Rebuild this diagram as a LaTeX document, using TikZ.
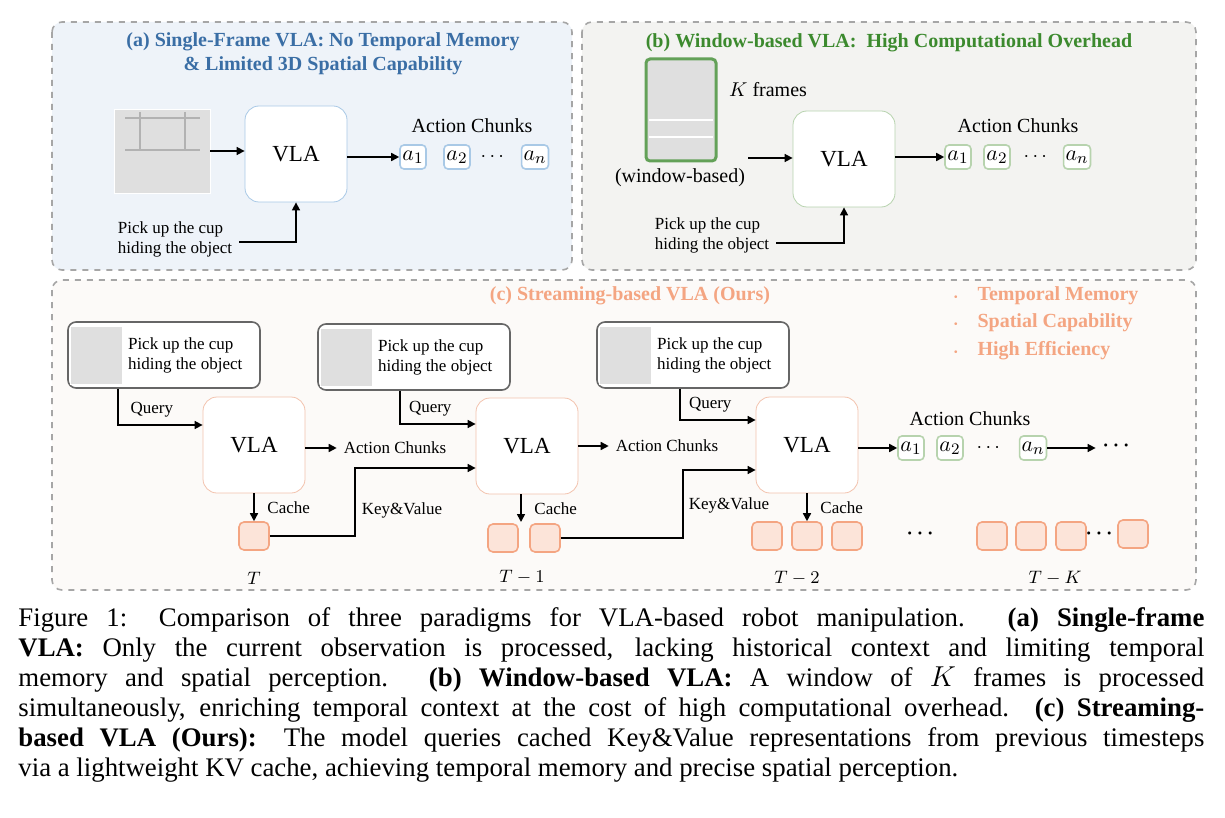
\documentclass[tikz,border=0pt]{standalone}
\usepackage{fontspec}
\setmainfont{Liberation Serif}
\usepackage{amsmath}
\usetikzlibrary{arrows.meta}
\definecolor{ablue}{HTML}{3A6EA5}
\definecolor{bgreen}{HTML}{3C8A2E}
\definecolor{corange}{HTML}{F4A582}
\definecolor{vlablue}{HTML}{A9C9E6}
\definecolor{vlagreen}{HTML}{B7D3AE}
\definecolor{vlaorange}{HTML}{F3C3AE}
\tikzset{
  panel/.style={draw=gray!70, dashed, thick, rounded corners=5pt},
  vla/.style={draw, rounded corners=7pt, fill=white, minimum width=51pt, minimum height=48pt, font=\fontsize{11.5}{12}\selectfont},
  chunk/.style={draw, thick, rounded corners=2pt, fill=white, minimum width=13pt, minimum height=12pt, inner sep=1pt, font=\fontsize{11}{11}\selectfont},
  cachebox/.style={draw=corange, fill=corange!30, thick, rounded corners=2.5pt, minimum width=15pt, minimum height=14pt},
  photo/.style={fill=gray!25, draw=white},
  frame/.style={draw=gray!80!black, thick, rounded corners=4pt, fill=white, minimum width=96pt, minimum height=33pt},
  lbl/.style={font=\fontsize{8.5}{10}\selectfont, align=left},
  arr/.style={-{Triangle[length=4pt,width=4pt]}, thick},
  tdot/.style={font=\bfseries\fontsize{10}{10}\selectfont},
}
\begin{document}
\begin{tikzpicture}[x=0.5pt,y=-0.5pt]
\useasboundingbox (0,0) rectangle (1225,818);
% panels
\draw[panel, fill={rgb,255:red,238;green,243;blue,249}] (52,22) rectangle (572,270);
\draw[panel, fill={rgb,255:red,243;green,243;blue,241}] (582,22) rectangle (1196,270);
\draw[panel, fill={rgb,255:red,252;green,250;blue,248}] (52,280) rectangle (1196,590);

% (a) single frame
\node[text=ablue, font=\bfseries\fontsize{10}{12}\selectfont, align=center] (atitle) at (323,54) {(a) Single-Frame VLA: No Temporal Memory\\\& Limited 3D Spatial Capability};
\node[photo, minimum width=48pt, minimum height=42pt] (aimg) at (162,151) {};
\draw[gray!60, thick] (125,118) -- (200,118) (140,112) -- (140,150) (185,112) -- (185,150) (125,150) -- (200,150);
\node[vla, draw=vlablue] (avla) at (296,154) {VLA};
\node[lbl] (achunks) at (472,126) {\fontsize{10}{11}\selectfont Action Chunks};
\node[chunk, draw=vlablue] (aa1) at (413,157) {$a_1$};
\node[chunk, draw=vlablue] (aa2) at (457,157) {$a_2$};
\node (adots) at (494,157) {$\cdots$};
\node[chunk, draw=vlablue] (aan) at (535,157) {$a_n$};
\node[lbl] (atext) at (175,239) {Pick up the cup\\hiding the object};
\draw[arr] (aimg.east) -- (avla.west|-aimg.east);
\draw[arr] (avla.east|-aa1) -- (aa1.west);
\draw[arr] (atext.east|-0,242) -| (avla.south);

% (b) window based
\node[text=bgreen, font=\bfseries\fontsize{10}{12}\selectfont] (btitle) at (889,43) {(b) Window-based VLA:\ \ High Computational Overhead};
\node[draw=bgreen!80, line width=1.5pt, rounded corners=2pt, fill=gray!25, minimum width=35pt, minimum height=51pt] (bimg) at (681,110) {};
\draw[white, thick] (649,120) -- (713,120) (649,137) -- (713,137);
\node[font=\fontsize{10}{11}\selectfont] (bk) at (768,90) {$K$ frames};
\node[font=\fontsize{10}{11}\selectfont] (bwin) at (680,178) {(window-based)};
\node[vla, draw=vlagreen] (bvla) at (844,159) {VLA};
\node[lbl] (bchunks) at (1018,126) {\fontsize{10}{11}\selectfont Action Chunks};
\node[chunk, draw=vlagreen] (ba1) at (958,157) {$a_1$};
\node[chunk, draw=vlagreen] (ba2) at (997,157) {$a_2$};
\node (bdots) at (1037,157) {$\cdots$};
\node[chunk, draw=vlagreen] (ban) at (1077,157) {$a_n$};
\node[lbl] (btext) at (712,235) {Pick up the cup\\hiding the object};
\coordinate (bin) at (748,158);
\draw[arr] (bin) -- (bvla.west|-bin);
\draw[arr] (bvla.east|-ba1) -- (ba1.west);
\draw[arr] (btext.east|-0,243) -| (bvla.south);

% (c) streaming
\node[text=corange, font=\bfseries\fontsize{10}{12}\selectfont] (ctitle) at (630,296) {(c) Streaming-based VLA (Ours)};
\foreach \t/\y in {Temporal Memory/296, Spatial Capability/323, High Efficiency/351}
  \node[text=corange, font=\bfseries\fontsize{10}{12}\selectfont, anchor=west] at (947,\y) {{\tiny\textbullet}\quad \t};

\foreach \i/\x/\y in {1/164/355, 2/414/357, 3/693/355} {
  \node[frame] (frame\i) at (\x,\y) {};
  \node[photo, minimum width=26pt, minimum height=29pt, anchor=west] (img\i) at (\x-94,\y) {};
  \node[lbl, anchor=west] (txt\i) at (\x-43,\y) {Pick up the cup\\hiding the object};
}
\node[vla, draw=vlaorange] (vla1) at (254,445) {VLA};
\node[vla, draw=vlaorange] (vla2) at (527,446) {VLA};
\node[vla, draw=vlaorange] (vla3) at (807,445) {VLA};

% query
\draw[arr] (frame1.south-|118,0) |- node[lbl, pos=0.7, above] {Query} (vla1.west|-0,425);
\draw[arr] (frame2.south-|400,0) |- node[lbl, pos=0.7, above] {Query} (vla2.west|-0,424);
\draw[arr] (frame3.south-|680,0) |- node[lbl, pos=0.7, above] {Query} (vla3.west|-0,420);

% action chunks
\node[lbl] (ac1) at (395,448) {Action Chunks};
\node[lbl] (ac2) at (667,446) {Action Chunks};
\draw[arr] (vla1.east|-ac1) -- (ac1.west);
\draw[arr] (vla2.east|-ac2) -- (ac2.west);
\node[lbl] (cchunks) at (970,419) {\fontsize{10}{11}\selectfont Action Chunks};
\node[chunk, draw=vlagreen] (ca1) at (911,448) {$a_1$};
\node[chunk, draw=vlagreen] (ca2) at (950,448) {$a_2$};
\node (cdots) at (990,448) {$\cdots$};
\node[chunk, draw=vlagreen] (can) at (1033,448) {$a_n$};
\node[tdot] (cend) at (1118,446) {$\boldsymbol\cdots$};
\draw[arr] (vla3.east|-ca1) -- (ca1.west);
\draw[arr] (can.east) -- (cend.west|-can.east);

% caches
\node[cachebox] (k1) at (254,536) {};
\node[cachebox] (k2a) at (503,538) {};
\node[cachebox] (k2b) at (545,538) {};
\node[cachebox] (k3a) at (767,536) {};
\node[cachebox] (k3b) at (807,536) {};
\node[cachebox] (k3c) at (847,536) {};
\node[tdot] (kdots) at (922,534) {$\boldsymbol\cdots$};
\node[cachebox] (k4a) at (992,536) {};
\node[cachebox] (k4b) at (1031,536) {};
\node[cachebox] (k4c) at (1071,536) {};
\node (k4dots) at (1101,534) {$\boldsymbol\cdots$};
\node[cachebox] (k4d) at (1133,534) {};
\draw[arr] (vla1.south) -- node[lbl, right=3pt] {Cache} (vla1.south|-k1.north);
\draw[arr] (vla2.south-|521,0) -- node[lbl, right=3pt] {Cache} (521,522);
\draw[arr] (vla3.south) -- node[lbl, right=3pt] {Cache} (vla3.south|-k3b.north);
\node[font=\fontsize{9}{10}\selectfont] (t1) at (254,578) {$T$};
\node[font=\fontsize{9}{10}\selectfont] (t2) at (522,577) {$T-1$};
\node[font=\fontsize{9}{10}\selectfont] (t3) at (797,578) {$T-2$};
\node[font=\fontsize{9}{10}\selectfont] (t4) at (1055,578) {$T-K$};

% key & value
\draw[arr] (k1.east) -| (355,468) -- (vla2.west|-0,468);
\node[lbl] at (402,510) {Key\&Value};
\draw[arr] (k2b.east) -| (683,470) -- (vla3.west|-0,470);
\node[lbl] at (729,505) {Key\&Value};

% caption
\node[anchor=north west, text width=593pt, align=justify, font=\fontsize{13.4}{15}\selectfont, inner sep=0pt] (caption) at (18,607) {Figure 1: Comparison of three paradigms for VLA-based robot manipulation. \textbf{(a) Single-frame}\linebreak \textbf{VLA:} Only the current observation is processed, lacking historical context and limiting temporal\linebreak memory and spatial perception. \textbf{(b) Window-based VLA:} A window of $K$ frames is processed\linebreak simultaneously, enriching temporal context at the cost of high computational overhead. \textbf{(c) Streaming-}\linebreak\textbf{based VLA (Ours):} The model queries cached Key\&Value representations from previous timesteps\linebreak via a lightweight KV cache, achieving temporal memory and precise spatial perception.};
\end{tikzpicture}
\end{document}
